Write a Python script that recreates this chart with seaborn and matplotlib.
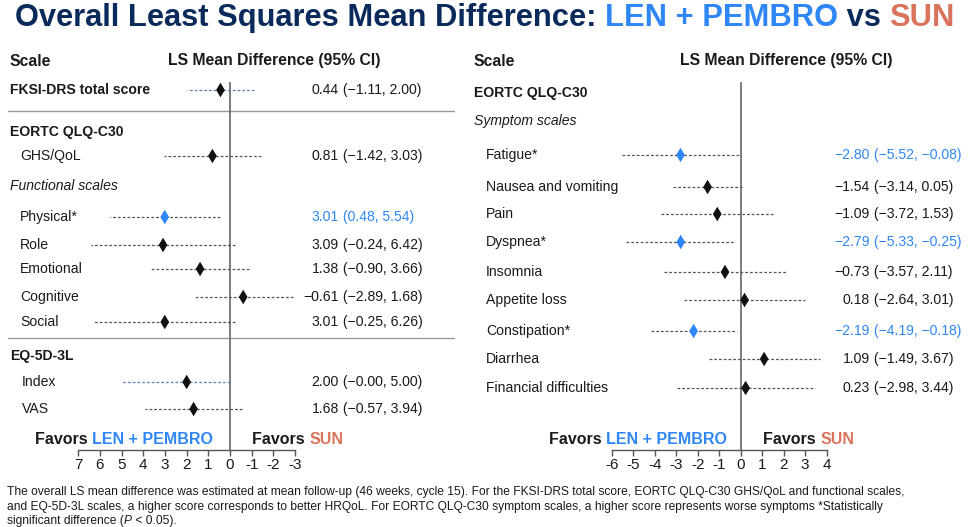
import numpy as np
import pandas as pd
import matplotlib
matplotlib.use("Agg")
import matplotlib.pyplot as plt
import seaborn as sns

# ---- data ----
left_labels = ["FKSI-DRS total score", "GHS/QoL", "Physical*", "Role", "Emotional",
               "Cognitive", "Social", "Index", "VAS"]
left_est = [0.44, 0.81, 3.01, 3.09, 1.38, -0.61, 3.01, 2.00, 1.68]
left_lo = [-1.11, -1.42, 0.48, -0.24, -0.90, -2.89, -0.25, -0.00, -0.57]
left_hi = [2.00, 3.03, 5.54, 6.42, 3.66, 1.68, 6.26, 5.00, 3.94]
left_sig = [False, False, True, False, False, False, False, False, False]

right_labels = ["Fatigue*", "Nausea and vomiting", "Pain", "Dyspnea*", "Insomnia",
                "Appetite loss", "Constipation*", "Diarrhea", "Financial difficulties"]
right_est = [-2.80, -1.54, -1.09, -2.79, -0.73, 0.18, -2.19, 1.09, 0.23]
right_lo = [-5.52, -3.14, -3.72, -5.33, -3.57, -2.64, -4.19, -1.49, -2.98]
right_hi = [-0.08, 0.05, 1.53, -0.25, 2.11, 3.01, -0.18, 3.67, 3.44]
right_sig = [True, False, False, True, False, False, True, False, False]

left_ticks = [7, 6, 5, 4, 3, 2, 1, 0, -1, -2, -3]
right_ticks = [-6, -5, -4, -3, -2, -1, 0, 1, 2, 3, 4]

# ---- layout (pixel rows) ----
left_rows = [90, 156, 217, 245, 269, 297, 322, 382, 409]
right_rows = [155, 187, 214, 242, 272, 300, 331, 359, 388]
left_ci_color = ["#5f7fae", "#555555", "#555555", "#555555", "#555555",
                 "#555555", "#555555", "#5f7fae", "#555555"]

NAVY = "#0b2a5c"
BLUE = "#2f86f6"
ORANGE = "#d9735b"
TXT = "#1a1a1a"
FS = 10.1

sns.set_theme(style="white")
plt.rcParams["font.family"] = ["Liberation Sans", "DejaVu Sans"]
plt.rcParams["axes.unicode_minus"] = False

W, H = 974, 527
fig = plt.figure(figsize=(W / 100, H / 100), dpi=100)
bg = fig.add_axes([0, 0, 1, 1])
bg.set_xlim(0, W)
bg.set_ylim(H, 0)
bg.axis("off")
renderer = fig.canvas.get_renderer()


def seg_text(x, y, parts, **kw):
    for s, color, extra in parts:
        t = bg.text(x, y, s, color=color, ha="left", va="center", **kw, **extra)
        bb = t.get_window_extent(renderer=renderer)
        x = bg.transData.inverted().transform((bb.x1, bb.y0))[0]


def fmt(v):
    return f"{v:.2f}".replace("-", "\u2212")


def forest(px0, px1, lim, ticks, est, lo, hi, sig, rows, ci_colors):
    top, bot = 82, 450
    ax = fig.add_axes([px0 / W, 1 - bot / H, (px1 - px0) / W, (bot - top) / H])
    ax.patch.set_alpha(0)
    df = pd.DataFrame({"est": est, "lo": lo, "hi": hi, "sig": sig, "y": rows})
    for i, r in df.iterrows():
        ax.plot([r.lo, r.hi], [r.y, r.y], color=ci_colors[i], lw=0.9,
                ls=(0, (2.2, 1.6)), zorder=1)
    sns.scatterplot(data=df, x="est", y="y", hue="sig",
                    palette={True: BLUE, False: "#111111"}, marker="d", s=55,
                    linewidth=0, legend=False, ax=ax, zorder=3)
    ax.axvline(0, color="#666666", lw=1.2, zorder=0)
    ax.set_xlim(*lim)
    ax.set_ylim(bot, top)
    ax.set_xticks(ticks)
    ax.set_xticklabels([str(t) for t in ticks])
    ax.set_yticks([])
    ax.set_xlabel("")
    ax.set_ylabel("")
    for s in ["top", "left", "right"]:
        ax.spines[s].set_visible(False)
    ax.spines["bottom"].set_color("#555555")
    ax.spines["bottom"].set_linewidth(1)
    ax.tick_params(axis="x", direction="out", length=4, width=1, color="#555555",
                   labelsize=11, labelcolor=TXT, pad=2, bottom=True)
    return ax


forest(78.3, 295, (7, -3), left_ticks, left_est, left_lo, left_hi, left_sig,
       left_rows, left_ci_color)
forest(611.7, 826.7, (-6, 4), right_ticks, right_est, right_lo, right_hi, right_sig,
       right_rows, ["#555555"] * len(right_rows))

# ---- title ----
seg_text(15, 18, [("Overall Least Squares Mean Difference: ", NAVY, {}),
                  ("LEN + PEMBRO", BLUE, {}),
                  (" vs ", NAVY, {}),
                  ("SUN", ORANGE, {})], fontsize=22.2, fontweight="bold")

# ---- headers ----
for xs, xc in [(10, 274), (473, 786)]:
    bg.text(xs, 61, "Scale", fontsize=11.3, fontweight="bold", color=TXT, va="center")
    bg.text(xc, 61, "LS Mean Difference (95% CI)", fontsize=11.3, fontweight="bold",
            color=TXT, va="center", ha="center")

# group labels
bg.text(10, 132, "EORTC QLQ-C30", fontsize=FS, fontweight="bold", color=TXT, va="center")
bg.text(10, 186, "Functional scales", fontsize=FS, style="italic", color=TXT, va="center")
bg.text(10, 356, "EQ-5D-3L", fontsize=FS, fontweight="bold", color=TXT, va="center")
bg.text(474, 93, "EORTC QLQ-C30", fontsize=FS, fontweight="bold", color=TXT, va="center")
bg.text(474, 121, "Symptom scales", fontsize=FS, style="italic", color=TXT, va="center")

for yy in [111, 338]:
    bg.plot([8, 454], [yy, yy], color="#999999", lw=1)

# row labels and values
for i, lab in enumerate(left_labels):
    if i == 0:
        bg.text(10, left_rows[i], lab, fontsize=FS, fontweight="bold", color=TXT, va="center")
    else:
        bg.text(20 if i < 7 else 22, left_rows[i], lab, fontsize=FS, color=TXT, va="center")
    c = BLUE if left_sig[i] else TXT
    bg.text(339, left_rows[i], fmt(left_est[i]), fontsize=FS, color=c, va="center", ha="right")
    bg.text(339, left_rows[i], f" ({fmt(left_lo[i])}, {fmt(left_hi[i])})", fontsize=FS,
            color=c, va="center", ha="left")

for i, lab in enumerate(right_labels):
    bg.text(486, right_rows[i], lab, fontsize=FS, color=TXT, va="center")
    c = BLUE if right_sig[i] else TXT
    bg.text(870, right_rows[i], fmt(right_est[i]), fontsize=FS, color=c, va="center", ha="right")
    bg.text(870, right_rows[i], f" ({fmt(right_lo[i])}, {fmt(right_hi[i])})", fontsize=FS,
            color=c, va="center", ha="left")

# favors
for xa, xb in [(35, 252), (549, 763)]:
    seg_text(xa, 439, [("Favors ", TXT, {}), ("LEN + PEMBRO", BLUE, {})],
             fontsize=11.5, fontweight="bold")
    seg_text(xb, 439, [("Favors ", TXT, {}), ("SUN", ORANGE, {})],
             fontsize=11.5, fontweight="bold")

# footnote
fn = dict(fontsize=8.65, family=["Liberation Sans Narrow", "Liberation Sans"])
seg_text(7, 492, [("The overall LS mean difference was estimated at mean follow-up (46 weeks, cycle 15). "
                   "For the FKSI-DRS total score, EORTC QLQ-C30 GHS/QoL and functional scales,", TXT, {})], **fn)
seg_text(7, 507, [("and EQ-5D-3L scales, a higher score corresponds to better HRQoL. For EORTC QLQ-C30 "
                   "symptom scales, a higher score represents worse symptoms *Statistically", TXT, {})], **fn)
seg_text(7, 521, [("significant difference (", TXT, {}), ("P", TXT, {"style": "italic"}),
                  (" < 0.05).", TXT, {})], **fn)

fig.savefig("out.png", dpi=100)
